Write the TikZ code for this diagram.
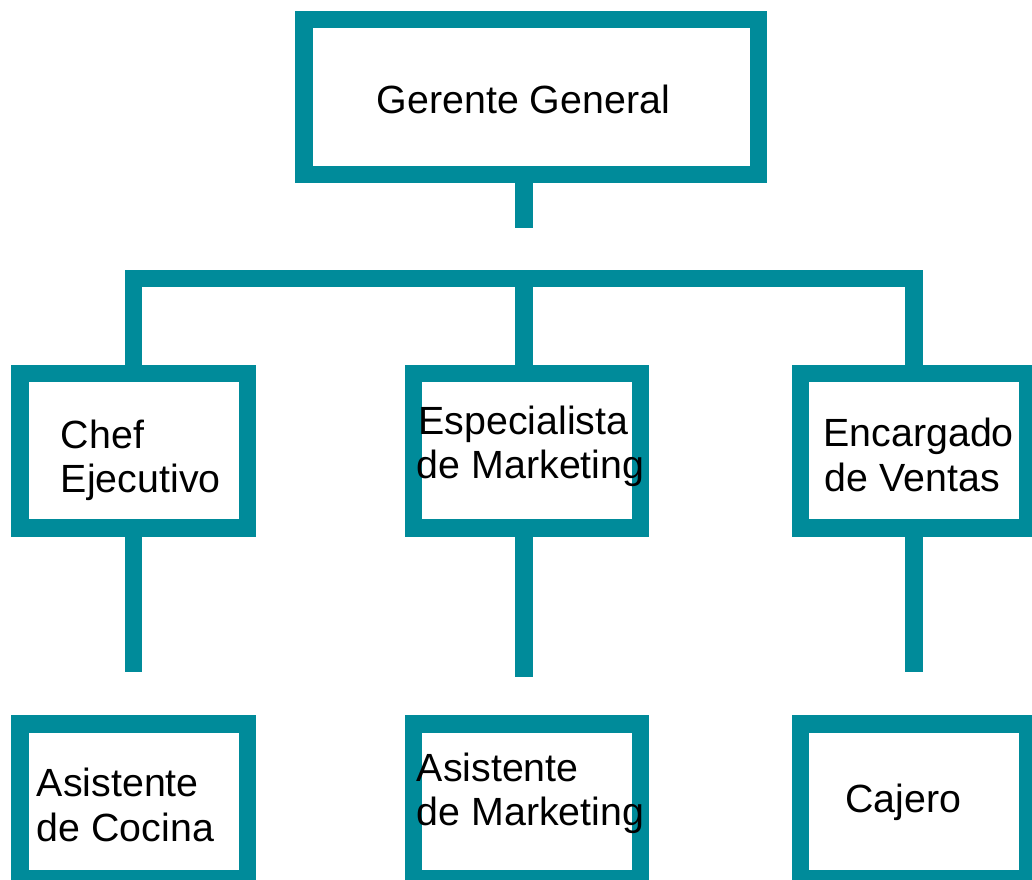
\documentclass[tikz,border=0pt]{standalone}
\usepackage{fontspec}
\setmainfont{Liberation Sans}
\definecolor{teal}{HTML}{008B9A}
\begin{document}
\begin{tikzpicture}[x=0.75pt,y=-0.75pt,
  box/.style={draw=teal,line width=13.05pt,rectangle,inner sep=0pt,outer sep=0pt},
  conn/.style={draw=teal,line width=13.05pt,line cap=butt,line join=miter},
  lbl/.style={anchor=base west,inner sep=0pt,font=\fontsize{29.5}{35}\selectfont,text=black}]
\useasboundingbox (0,0) rectangle (1032,879);
\clip (0,0) rectangle (1032,879);
% boxes
\node[box,minimum width=340.95pt,minimum height=115.95pt] (gg) at (531.3,97) {};
\node[box,minimum width=170.5pt,minimum height=115.6pt] (chef) at (133.65,450.75) {};
\node[box,minimum width=170.5pt,minimum height=115.6pt] (esp) at (527,450.75) {};
\node[box,minimum width=170.5pt,minimum height=115.6pt] (enc) at (913.9,450.75) {};
\node[box,minimum width=170.5pt,minimum height=116pt] (asc) at (133.65,801.35) {};
\node[box,minimum width=170.5pt,minimum height=116pt] (asm) at (527,801.35) {};
\node[box,minimum width=170.5pt,minimum height=116pt] (caj) at (913.9,801.35) {};
% texts
\node[lbl] (tgg) at (376.7,113.3) {Gerente General};
\node[lbl] (tchef1) at (60.7,448.3) {Chef};
\node[lbl] (tchef2) at (60.7,492.7) {Ejecutivo};
\node[lbl] (tesp1) at (418.3,434) {Especialista};
\node[lbl] (tesp2) at (416.7,478.3) {de Marketing};
\node[lbl] (tenc1) at (823.3,446.7) {Encargado};
\node[lbl] (tenc2) at (824.5,491.5) {de Ventas};
\node[lbl] (tasc1) at (36.7,796.7) {Asistente};
\node[lbl] (tasc2) at (36.7,841.7) {de Cocina};
\node[lbl] (tasm1) at (416.6,781) {Asistente};
\node[lbl] (tasm2) at (416.6,825.7) {de Marketing};
\node[lbl] (tcaj) at (844.9,812.3) {Cajero};
% connectors
\coordinate (s0) at (524,227.7);
\coordinate (bar) at (524,278.7);
\coordinate (e1) at (133.65,671.7);
\coordinate (e2) at (524,677.3);
\coordinate (e3) at (913.9,671.7);
\draw[conn] (s0 |- gg.south) -- (s0);
\draw[conn] (chef.north) |- (bar) -| (enc.north);
\draw[conn] (bar) -- (bar |- esp.north);
\draw[conn] (chef.south) -- (e1);
\draw[conn] (e2 |- esp.south) -- (e2);
\draw[conn] (enc.south) -- (e3);
\end{tikzpicture}
\end{document}
